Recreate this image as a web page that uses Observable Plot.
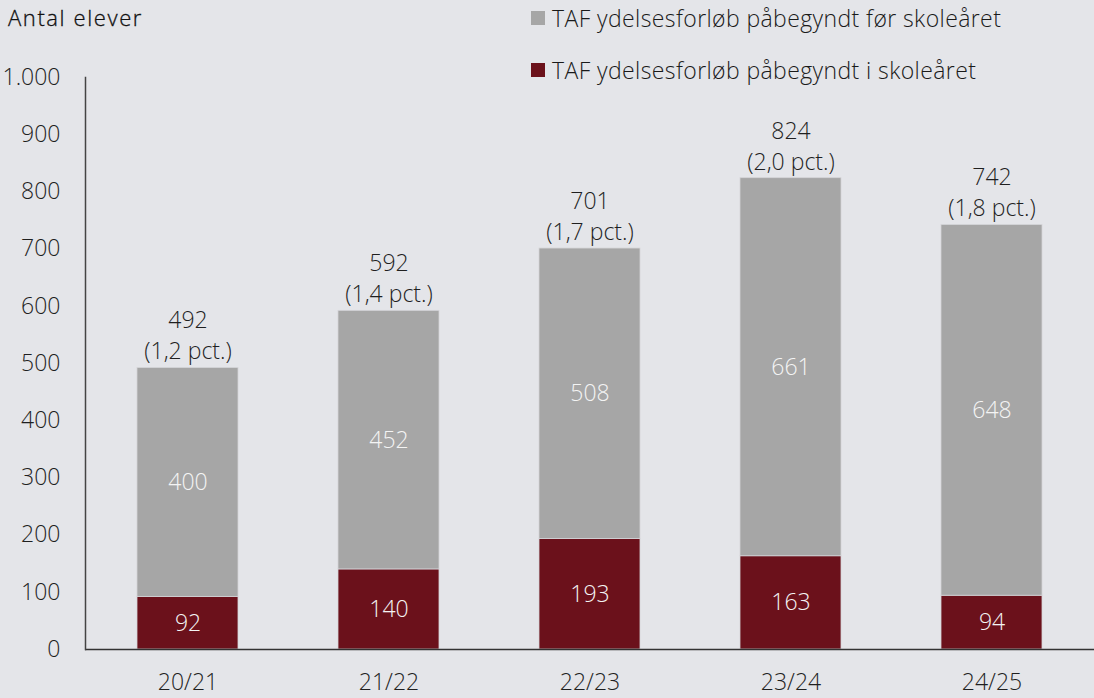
<!DOCTYPE html>
<html>
<head>
<meta charset="utf-8">
<script src="https://cdn.jsdelivr.net/npm/d3@7"></script>
<script src="https://cdn.jsdelivr.net/npm/@observablehq/plot@0.6"></script>
<style>
  html, body { margin: 0; padding: 0; background: #e4e5e9; }
  #wrap { position: relative; width: 1094px; height: 698px; overflow: hidden; }
  #title { position: absolute; left: 8px; top: 2px; font-family: "Open Sans", sans-serif; font-size: 22px; font-weight: 300; letter-spacing: 1.6px; color: #111; -webkit-text-stroke: 0.3px #111; }
  .leg { position: absolute; left: 531px; font-family: "Open Sans", sans-serif; font-size: 23px; font-weight: 300; color: #1a1a1a; display: flex; align-items: center; white-space: nowrap; letter-spacing: 0.4px; }
  .leg .sw { width: 14px; height: 14px; margin-right: 7px; }
  svg { position: absolute; left: 0; top: 0; }
</style>
</head>
<body>
<div id="wrap">
  <div id="title">Antal elever</div>
  <div class="leg" id="leg1" style="top:2px"><span class="sw"></span><span class="tx"></span></div>
  <div class="leg" id="leg2" style="top:54px"><span class="sw"></span><span class="tx"></span></div>
</div>
<script>
const years = ["20/21", "21/22", "22/23", "23/24", "24/25"];
const seriesNames = ["TAF ydelsesforløb påbegyndt i skoleåret", "TAF ydelsesforløb påbegyndt før skoleåret"];
const during = [92, 140, 193, 163, 94];
const before = [400, 452, 508, 661, 648];
const totals = [492, 592, 701, 824, 742];
const pctLabels = ["(1,2 pct.)", "(1,4 pct.)", "(1,7 pct.)", "(2,0 pct.)", "(1,8 pct.)"];
const yTicks = [0, 100, 200, 300, 400, 500, 600, 700, 800, 900, 1000];
const colors = ["#6b111b", "#a6a6a6"];

const table = [];
years.forEach((y, i) => {
  table.push({year: y, series: seriesNames[0], value: during[i]});
  table.push({year: y, series: seriesNames[1], value: before[i]});
});
const totalRows = years.map((y, i) => ({year: y, total: totals[i], pct: pctLabels[i]}));

const locale = d3.formatLocale({decimal: ",", thousands: ".", grouping: [3], currency: ["", " kr."]});
const fmt = locale.format(",d");

const FS = 23;
const chart = Plot.plot({
  width: 1094,
  height: 698,
  marginLeft: 85,
  marginRight: 0,
  marginTop: 77,
  marginBottom: 49,
  style: {background: "transparent", fontFamily: "'Open Sans', sans-serif", fontSize: FS + "px", fontWeight: 300, color: "#1f1f1f"},
  x: {domain: years, paddingInner: 0.5, paddingOuter: 0.25, align: 0.5, label: null},
  y: {domain: [0, 1000], label: null},
  color: {domain: seriesNames, range: colors},
  marks: [
    Plot.barY(table, {x: "year", y: "value", fill: "series", stroke: "#d4d4d8", strokeWidth: 0.8}),
    Plot.text(table, Plot.stackY({x: "year", y: "value", text: d => fmt(d.value), fill: "#f4f4f4", fontSize: FS, fontWeight: 300, z: "series"})),
    Plot.text(totalRows, {x: "year", y: "total", text: "pct", dy: -16, fill: "#1f1f1f", fontSize: FS, fontWeight: 300}),
    Plot.text(totalRows, {x: "year", y: "total", text: d => fmt(d.total), dy: -47, fill: "#1f1f1f", fontSize: FS, fontWeight: 300}),
    Plot.axisY({ticks: yTicks, tickSize: 0, tickPadding: 25, tickFormat: fmt, fontSize: FS, fontWeight: 300, fill: "#1f1f1f"}),
    Plot.axisX({tickSize: 0, tickPadding: 24, fontSize: FS, fontWeight: 300, fill: "#1f1f1f"}),
    Plot.ruleY([0], {stroke: "#333", strokeWidth: 1.5}),
    Plot.frame({anchor: "left", stroke: "#444", strokeWidth: 1.5})
  ]
});
document.getElementById("wrap").prepend(chart);

const legRows = [[seriesNames[1], colors[1]], [seriesNames[0], colors[0]]];
["leg1", "leg2"].forEach((id, i) => {
  const el = document.getElementById(id);
  el.querySelector(".sw").style.background = legRows[i][1];
  el.querySelector(".tx").textContent = legRows[i][0];
});
</script>
</body>
</html>
